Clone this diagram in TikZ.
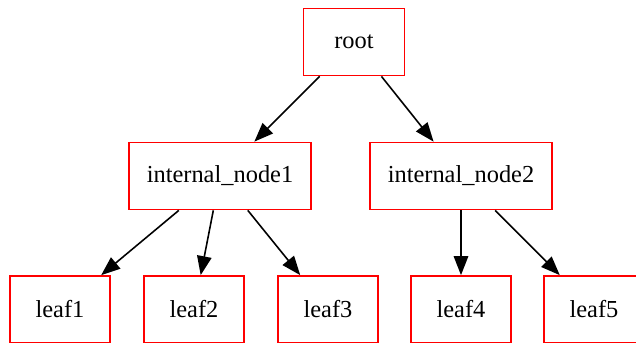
\documentclass[tikz,border=0pt]{standalone}
\usepackage{fontspec}
\setmainfont{Liberation Serif}
\usepackage{tikz}
\usetikzlibrary{arrows.meta}

\begin{document}
\begin{tikzpicture}[x=0.02cm, y=-0.02cm,
        treebox/.style={draw=red, line width=1pt, minimum height=1.34cm,
                        font=\fontsize{13.9}{16}\selectfont},
        leafbox/.style={treebox, minimum width=2cm},
        tedge/.style={line width=0.9pt, -{Triangle[length=0.38cm, width=0.29cm]}}]
    \useasboundingbox (0, 0) rectangle (636, 342);
    % top
    \node[treebox, minimum width=2.02cm] (root) at (354, 42) {root};
    % middle row
    \node[treebox, minimum width=3.64cm] (inner1) at (220, 176) {internal\_node1};
    \node[treebox, minimum width=3.64cm] (inner2) at (461, 176) {internal\_node2};
    % leaves
    \node[leafbox] (leaf1) at (60, 309.5) {leaf1};
    \node[leafbox] (leaf2) at (194, 309.5) {leaf2};
    \node[leafbox] (leaf3) at (328, 309.5) {leaf3};
    \node[leafbox] (leaf4) at (461, 309.5) {leaf4};
    \node[leafbox] (leaf5) at (594, 309.5) {leaf5};
    \draw[tedge] (root) -- (inner1);
    \draw[tedge] (root) -- (inner2);
    \draw[tedge] (inner1) -- (leaf1);
    \draw[tedge] (inner1) -- (leaf2);
    \draw[tedge] (inner1) -- (leaf3);
    \draw[tedge] (inner2) -- (leaf4);
    \draw[tedge] (inner2) -- (leaf5);
\end{tikzpicture}
\end{document}
